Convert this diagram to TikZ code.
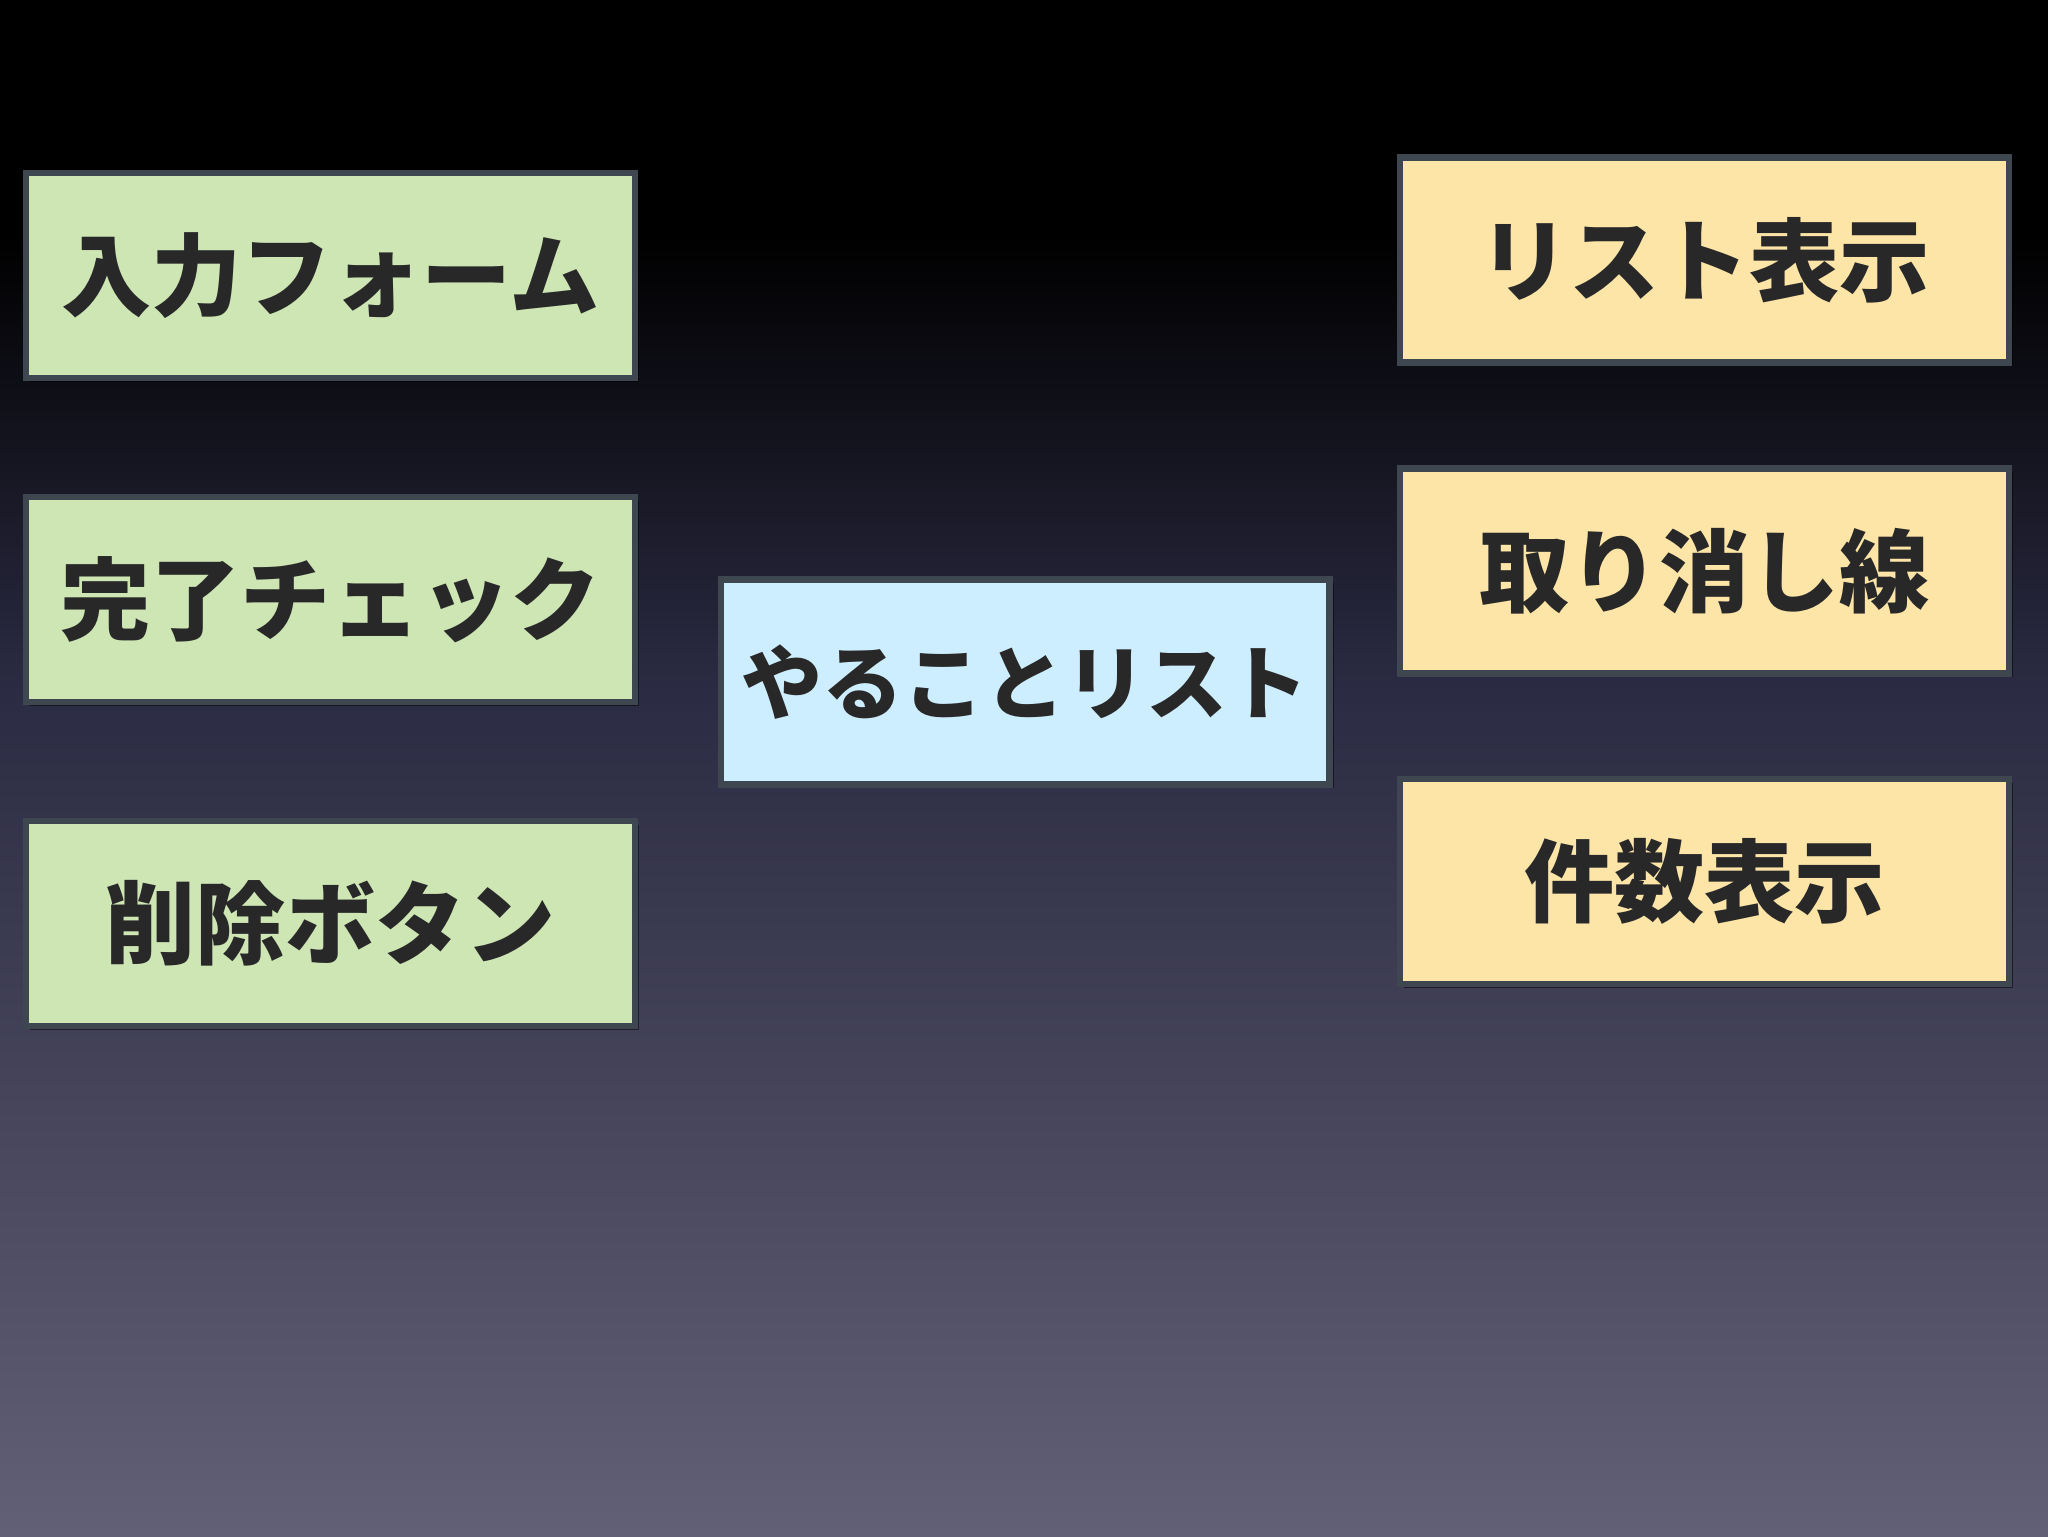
\documentclass[tikz,border=0pt]{standalone}
\usepackage{fontspec}
\newfontfamily\cjk{Noto Sans CJK JP}
\usetikzlibrary{shadows}
\definecolor{bgtop}{RGB}{0,0,0}
\definecolor{bgmid}{RGB}{42,42,66}
\definecolor{bgbot}{RGB}{98,96,118}
\definecolor{gfill}{RGB}{205,230,180}
\definecolor{bfill}{RGB}{205,238,254}
\definecolor{yfill}{RGB}{253,229,168}
\definecolor{edge}{RGB}{62,70,80}
\definecolor{txt}{RGB}{40,40,40}
\tikzset{
 box/.style={draw=edge,line width=5pt,minimum width=466pt,minimum height=157pt,inner sep=0pt,
  font=\cjk\bfseries\fontsize{69pt}{75pt}\selectfont,text=txt,
  drop shadow={shadow xshift=3pt,shadow yshift=-3pt,fill=black,opacity=0.5}},
 gbox/.style={box,fill=gfill},
 bbox/.style={box,fill=bfill,font=\cjk\bfseries\fontsize{62pt}{70pt}\selectfont},
 ybox/.style={box,fill=yfill}
}
\begin{document}
\begin{tikzpicture}[x=1pt,y=-1pt]
\useasboundingbox (0,0) rectangle (1568,1176);
\fill[bgtop] (0,0) rectangle (1568,180);
\shade[top color=bgtop,bottom color=bgmid] (0,179.5) rectangle (1568,520);
\shade[top color=bgmid,bottom color=bgbot] (0,519.5) rectangle (1568,1176);
\node[gbox] (a) at (253,211) {入力フォーム};
\node[gbox] (b) at (253,459) {完了チェック};
\node[gbox] (c) at (253,707) {削除ボタン};
\node[bbox] (d) at (785,522) {やることリスト};
\node[ybox] (e) at (1305,199) {リスト表示};
\node[ybox] (f) at (1305,437) {取り消し線};
\node[ybox] (g) at (1305,675) {件数表示};
\end{tikzpicture}
\end{document}
